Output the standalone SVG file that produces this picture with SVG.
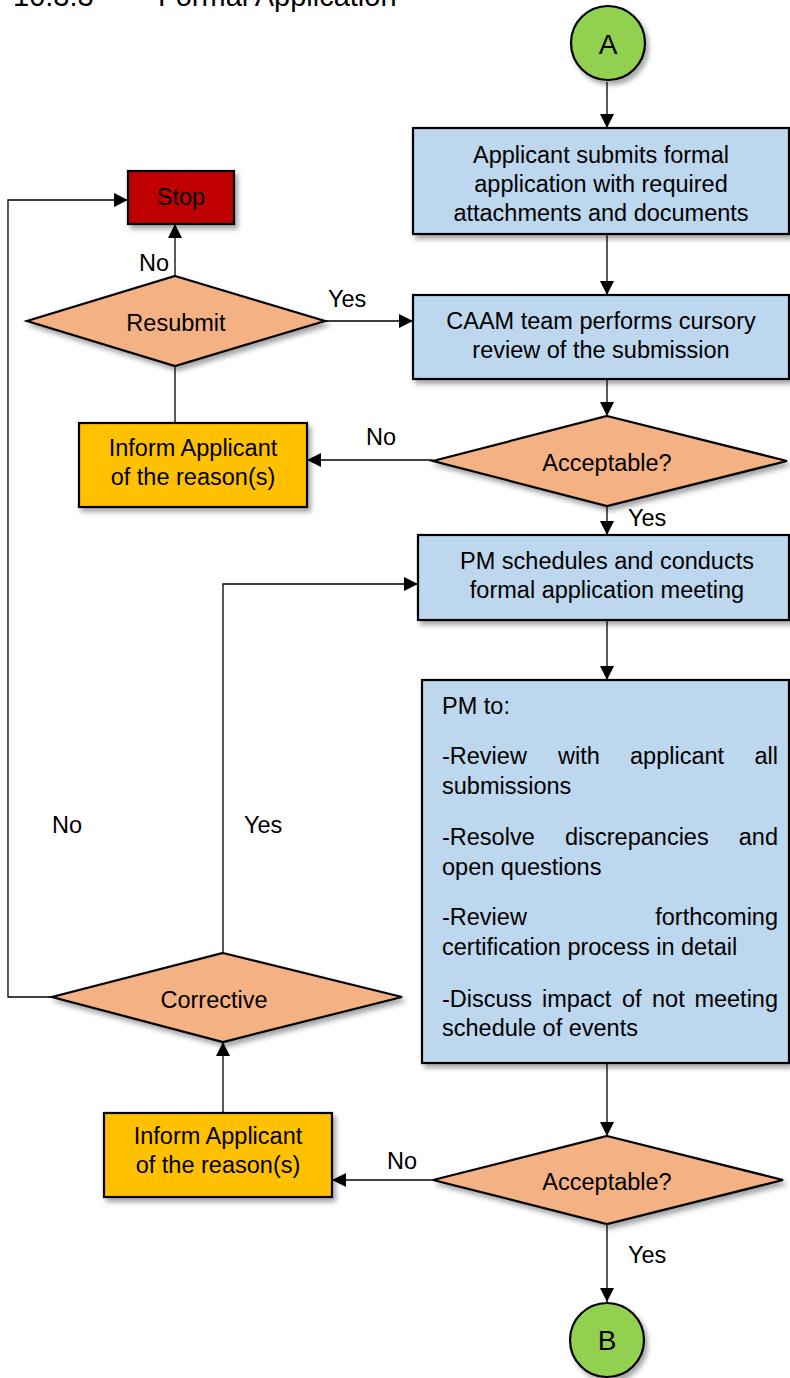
<svg xmlns="http://www.w3.org/2000/svg" width="790" height="1378" viewBox="0 0 790 1378">
<defs>
<style>
text{font-family:"Liberation Sans",Arial,sans-serif;font-size:23.5px;fill:#000}
.c{text-anchor:middle}
.e{text-anchor:end}
.box{stroke:#000;stroke-width:2.2;filter:url(#sh)}
.blue{fill:#bdd7ee}
.orange{fill:#ffc000}
.dia{fill:#f4b183}
.red{fill:#c00000}
.green{fill:#92d050}
.ln{fill:none;stroke:#000;stroke-width:1.3}
.ar{marker-end:url(#ah)}
</style>
<filter id="sh" x="-10%" y="-10%" width="125%" height="135%">
<feDropShadow dx="3" dy="4" stdDeviation="2.5" flood-color="#000" flood-opacity="0.35"/>
</filter>
<marker id="ah" viewBox="0 0 14 14" refX="14" refY="7" markerWidth="14" markerHeight="14" markerUnits="userSpaceOnUse" orient="auto">
<path d="M0,0 L14,7 L0,14 z" fill="#000"/>
</marker>
</defs>
<rect width="790" height="1378" fill="#fff"/>
<text x="13" y="6" style="font-size:29px">10.3.3</text>
<text x="158" y="6" style="font-size:29px">Formal Application</text>

<g id="connectors">
<path class="ln ar" d="M607,82 L607,128"/>
<path class="ln ar" d="M607,234 L607,295"/>
<path class="ln ar" d="M607,379 L607,416"/>
<path class="ln ar" d="M433,460 L307,460"/>
<path class="ln ar" d="M607,506 L607,535"/>
<path class="ln ar" d="M607,620 L607,680"/>
<path class="ln ar" d="M607,1063 L607,1136"/>
<path class="ln ar" d="M433,1180 L332,1180"/>
<path class="ln ar" d="M607,1224 L607,1302"/>
<path class="ln ar" d="M223,1113 L223,1042"/>
<path class="ln ar" d="M223,953 L223,584 L418,584"/>
<path class="ln ar" d="M52,997 L8,997 L8,200 L128,200"/>
<path class="ln" d="M175,423 L175,366"/>
<path class="ln ar" d="M175,276 L175,224"/>
<path class="ln ar" d="M325,321 L413,321"/>
<text x="366" y="445">No</text>
<text x="628" y="526">Yes</text>
<text x="387" y="1169">No</text>
<text x="628" y="1263">Yes</text>
<text x="139" y="271">No</text>
<text x="328" y="307">Yes</text>
<text x="52" y="833">No</text>
<text x="244" y="833">Yes</text>
</g>

<g id="start-a">
<circle class="box green" cx="608" cy="43" r="37"/>
<text class="c" x="608" y="54" style="font-size:28px">A</text>
</g>

<g id="submit">
<rect class="box blue" x="413" y="128" width="376" height="106"/>
<text class="c" x="601" y="163">Applicant submits formal</text>
<text class="c" x="601" y="192">application with required</text>
<text class="c" x="601" y="221">attachments and documents</text>
</g>

<g id="review">
<rect class="box blue" x="413" y="295" width="376" height="84"/>
<text class="c" x="601" y="329">CAAM team performs cursory</text>
<text class="c" x="601" y="358">review of the submission</text>
</g>

<g id="acceptable1">
<polygon class="box dia" points="607,416 787,461 607,506 433,461"/>
<text class="c" x="607" y="471">Acceptable?</text>
</g>

<g id="inform1">
<rect class="box orange" x="79" y="423" width="228" height="84"/>
<text class="c" x="193" y="456">Inform Applicant</text>
<text class="c" x="193" y="485">of the reason(s)</text>
</g>

<g id="resubmit">
<polygon class="box dia" points="175,276 325,321 175,366 27,321"/>
<text class="c" x="176" y="331">Resubmit</text>
</g>

<g id="stop">
<rect class="box red" x="128" y="171" width="106" height="53"/>
<text class="c" x="181" y="205">Stop</text>
</g>

<g id="meeting">
<rect class="box blue" x="418" y="535" width="371" height="85"/>
<text class="c" x="607" y="569">PM schedules and conducts</text>
<text class="c" x="607" y="598">formal application meeting</text>
</g>

<g id="pm-tasks">
<rect class="box blue" x="422" y="680" width="367" height="383"/>
<text x="442" y="714">PM to:</text>
<text x="442" y="764">-Review</text>
<text x="558" y="764">with</text>
<text x="630" y="764">applicant</text>
<text class="e" x="778" y="764">all</text>
<text x="442" y="794">submissions</text>
<text x="442" y="845">-Resolve</text>
<text x="565" y="845">discrepancies</text>
<text class="e" x="778" y="845">and</text>
<text x="442" y="875">open questions</text>
<text x="442" y="925">-Review</text>
<text class="e" x="778" y="925">forthcoming</text>
<text x="442" y="955">certification process in detail</text>
<text x="442" y="1007">-Discuss</text>
<text x="542" y="1007">impact</text>
<text x="622" y="1007">of</text>
<text x="652" y="1007">not</text>
<text class="e" x="778" y="1007">meeting</text>
<text x="442" y="1036">schedule of events</text>
</g>

<g id="acceptable2">
<polygon class="box dia" points="607,1136 783,1180 607,1224 433,1180"/>
<text class="c" x="607" y="1190">Acceptable?</text>
</g>

<g id="inform2">
<rect class="box orange" x="104" y="1113" width="228" height="84"/>
<text class="c" x="218" y="1144">Inform Applicant</text>
<text class="c" x="218" y="1173">of the reason(s)</text>
</g>

<g id="corrective">
<polygon class="box dia" points="223,953 402,997 223,1042 52,997"/>
<text class="c" x="214" y="1008">Corrective</text>
</g>

<g id="end-b">
<circle class="box green" cx="607" cy="1340" r="37"/>
<text class="c" x="607" y="1350" style="font-size:28px">B</text>
</g>
</svg>
